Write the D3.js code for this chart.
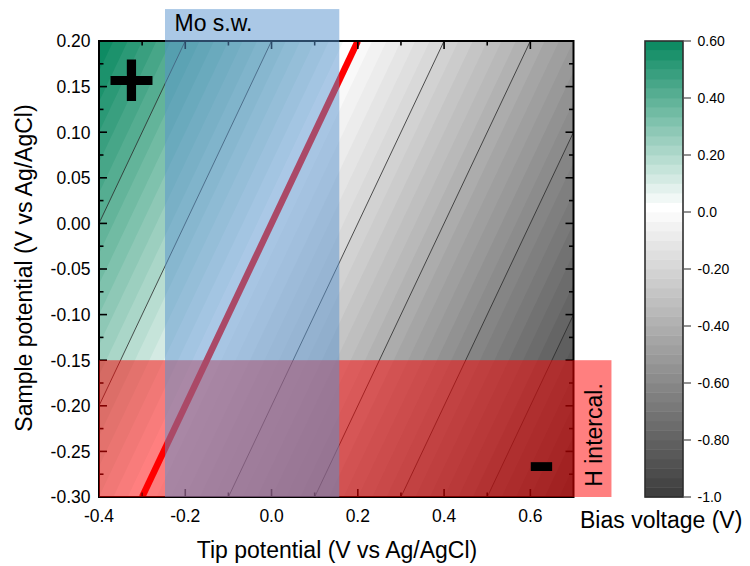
<!DOCTYPE html>
<html>
<head>
<meta charset="utf-8">
<script src="https://cdn.jsdelivr.net/npm/d3@7"></script>
<style>
  body { margin: 0; background: #fff; }
  svg { display: block; }
  text { font-family: "Liberation Sans", Arial, sans-serif; fill: #000; }
</style>
</head>
<body>
<svg id="chart" width="750" height="566"></svg>
<script>
// ---- axes and ticks ----
const tipDomain = [-0.4, 0.7];
const sampleDomain = [-0.3, 0.2];
const xTickValues = [-0.4, -0.2, 0.0, 0.2, 0.4, 0.6];
const xTickLabels = ["-0.4", "-0.2", "0.0", "0.2", "0.4", "0.6"];
const xMinorTicks = [-0.3, -0.1, 0.1, 0.3, 0.5];
const yTickValues = [0.20, 0.15, 0.10, 0.05, 0.00, -0.05, -0.10, -0.15, -0.20, -0.25, -0.30];
const yTickLabels = ["0.20", "0.15", "0.10", "0.05", "0.00", "-0.05", "-0.10", "-0.15", "-0.20", "-0.25", "-0.30"];
const yMinorTicks = [0.175, 0.125, 0.075, 0.025, -0.025, -0.075, -0.125, -0.175, -0.225, -0.275];

// ---- bias voltage (sample - tip) colour map ----
const biasRange = [-1.0, 0.6];
const biasBandCount = 48;
const biasColorStops = [-1.0, 0.0, 0.6];
const biasColors = ["#3f3f3f", "#ffffff", "#00845a"];
const colorbarTickValues = [0.6, 0.4, 0.2, 0.0, -0.2, -0.4, -0.6, -0.8, -1.0];
const colorbarTickLabels = ["0.60", "0.40", "0.20", "0.0", "-0.20", "-0.40", "-0.60", "-0.80", "-1.0"];

// iso-bias lines (V) and the zero-bias line
const contourLevels = [0.4, 0.2, -0.2, -0.4, -0.6, -0.8];
const zeroBiasLevel = 0.0;

// shaded windows
const moTipRange = [-0.247, 0.157];
const moSampleTop = 0.235;
const hSampleRange = [-0.30, -0.15];
const hTipRight = 0.788;

// ---- layout ----
const svg = d3.select("#chart");
const plot = { left: 99, right: 573.5, top: 41, bottom: 497 };
const bar = { left: 645, right: 683 };

const x = d3.scaleLinear().domain(tipDomain).range([plot.left, plot.right]);
const y = d3.scaleLinear().domain(sampleDomain).range([plot.bottom, plot.top]);
const cy = d3.scaleLinear().domain(biasRange).range([plot.bottom, plot.top]);
const color = d3.scaleLinear().domain(biasColorStops).range(biasColors).interpolate(d3.interpolateRgb);

const bandStep = (biasRange[1] - biasRange[0]) / biasBandCount;
const thresholds = d3.range(biasBandCount).map(k => biasRange[0] + k * bandStep);

svg.append("defs").append("clipPath").attr("id", "plotClip")
  .append("rect")
  .attr("x", plot.left).attr("y", plot.top)
  .attr("width", plot.right - plot.left).attr("height", plot.bottom - plot.top);

// ---- filled bias map ----
const gridStep = 0.005;
const tipGrid = d3.range(tipDomain[0], tipDomain[1] + gridStep / 2, gridStep);
const sampleGrid = d3.range(sampleDomain[1], sampleDomain[0] - gridStep / 2, -gridStep);
const nx = tipGrid.length, ny = sampleGrid.length;
const field = new Float64Array(nx * ny);
sampleGrid.forEach((s, j) => tipGrid.forEach((t, i) => { field[j * nx + i] = s - t; }));

const gx = d3.scaleLinear().domain([0.5, nx - 0.5]).range([x(tipGrid[0]), x(tipGrid[nx - 1])]);
const gy = d3.scaleLinear().domain([0.5, ny - 0.5]).range([y(sampleGrid[0]), y(sampleGrid[ny - 1])]);
const gridPath = d3.geoPath(d3.geoTransform({
  point(px, py) { this.stream.point(gx(px), gy(py)); }
}));

const mapLayer = svg.append("g").attr("clip-path", "url(#plotClip)");
mapLayer.append("rect")
  .attr("x", plot.left).attr("y", plot.top)
  .attr("width", plot.right - plot.left).attr("height", plot.bottom - plot.top)
  .attr("fill", color(biasRange[0]));
mapLayer.selectAll("path.band")
  .data(d3.contours().size([nx, ny]).thresholds(thresholds)(field))
  .join("path")
  .attr("class", "band")
  .attr("d", gridPath)
  .attr("fill", d => color(d.value));

// iso-bias lines: sample = tip + level
const isoLine = level => d3.line()(sampleDomain.map(s => [x(s - level), y(s)]));
mapLayer.selectAll("path.iso")
  .data(contourLevels)
  .join("path")
  .attr("class", "iso")
  .attr("d", isoLine)
  .attr("fill", "none")
  .attr("stroke", "#2a2a2a")
  .attr("stroke-width", 0.8);

mapLayer.append("path")
  .attr("d", isoLine(zeroBiasLevel))
  .attr("fill", "none")
  .attr("stroke", "#ff0000")
  .attr("stroke-width", 6.5);

// ---- frame and inward ticks ----
const axes = svg.append("g");
axes.append("rect")
  .attr("x", plot.left).attr("y", plot.top)
  .attr("width", plot.right - plot.left).attr("height", plot.bottom - plot.top)
  .attr("fill", "none").attr("stroke", "#000").attr("stroke-width", 2);

const tick = (g, x1, y1, x2, y2) => g.append("line")
  .attr("x1", x1).attr("y1", y1).attr("x2", x2).attr("y2", y2)
  .attr("stroke", "#000").attr("stroke-width", 1.6);

xTickValues.forEach(v => {
  tick(axes, x(v), plot.bottom, x(v), plot.bottom - 8);
  tick(axes, x(v), plot.top, x(v), plot.top + 8);
});
xMinorTicks.forEach(v => {
  tick(axes, x(v), plot.bottom, x(v), plot.bottom - 4.5);
  tick(axes, x(v), plot.top, x(v), plot.top + 4.5);
});
yTickValues.forEach(v => {
  tick(axes, plot.left, y(v), plot.left + 8, y(v));
  tick(axes, plot.right, y(v), plot.right - 8, y(v));
});
yMinorTicks.forEach(v => {
  tick(axes, plot.left, y(v), plot.left + 4.5, y(v));
  tick(axes, plot.right, y(v), plot.right - 4.5, y(v));
});

svg.append("g").selectAll("text")
  .data(xTickValues)
  .join("text")
  .attr("x", d => x(d)).attr("y", 522)
  .attr("text-anchor", "middle").attr("font-size", 17.5)
  .text((d, i) => xTickLabels[i]);

svg.append("g").selectAll("text")
  .data(yTickValues)
  .join("text")
  .attr("x", 90.5).attr("y", d => y(d) + 6.3)
  .attr("text-anchor", "end").attr("font-size", 17.5)
  .text((d, i) => yTickLabels[i]);

// ---- shaded windows ----
svg.append("rect")
  .attr("x", plot.left).attr("y", y(hSampleRange[1]))
  .attr("width", x(hTipRight) - plot.left)
  .attr("height", y(hSampleRange[0]) - y(hSampleRange[1]))
  .attr("fill", "rgba(255,0,0,0.5)");

svg.append("rect")
  .attr("x", x(moTipRange[0])).attr("y", y(moSampleTop))
  .attr("width", x(moTipRange[1]) - x(moTipRange[0]))
  .attr("height", plot.bottom - y(moSampleTop))
  .attr("fill", "rgba(85,145,205,0.5)");

svg.append("text")
  .attr("x", 174.5).attr("y", 31)
  .attr("font-size", 23)
  .text("Mo s.w.");

svg.append("text")
  .attr("transform", "translate(601.5,435) rotate(-90)")
  .attr("text-anchor", "middle").attr("font-size", 23)
  .text("H intercal.");

// ---- sign markers, sized from their ink box ----
const measureCtx = document.createElement("canvas").getContext("2d");
function signMark(ch, cx, cyy, w, h) {
  measureCtx.font = "bold 100px 'Liberation Sans', Arial, sans-serif";
  const m = measureCtx.measureText(ch);
  const inkW = m.actualBoundingBoxLeft + m.actualBoundingBoxRight;
  const inkH = m.actualBoundingBoxAscent + m.actualBoundingBoxDescent;
  const sx = w / inkW, sy = h / inkH;
  const inkCx = (m.actualBoundingBoxRight - m.actualBoundingBoxLeft) / 2;
  const inkCy = (m.actualBoundingBoxDescent - m.actualBoundingBoxAscent) / 2;
  svg.append("text")
    .attr("transform", `translate(${cx},${cyy}) scale(${sx},${sy}) translate(${-inkCx},${-inkCy})`)
    .attr("font-size", 100).attr("font-weight", "bold")
    .text(ch);
}
signMark("+", 131.7, 79.2, 42.7, 42);
signMark("-", 541.3, 466.2, 22.7, 9);

// ---- axis titles ----
svg.append("text")
  .attr("x", 337).attr("y", 558)
  .attr("text-anchor", "middle").attr("font-size", 23)
  .text("Tip potential (V vs Ag/AgCl)");

svg.append("text")
  .attr("transform", `translate(31.5,${(plot.top + plot.bottom) / 2 - 1}) rotate(-90)`)
  .attr("text-anchor", "middle").attr("font-size", 23)
  .text("Sample potential (V vs Ag/AgCl)");

// ---- colour bar ----
const cbar = svg.append("g");
cbar.selectAll("rect.band")
  .data(thresholds)
  .join("rect")
  .attr("class", "band")
  .attr("x", bar.left).attr("width", bar.right - bar.left)
  .attr("y", d => cy(d + bandStep))
  .attr("height", d => cy(d) - cy(d + bandStep) + 0.4)
  .attr("fill", d => color(d));
cbar.append("rect")
  .attr("x", bar.left).attr("y", plot.top)
  .attr("width", bar.right - bar.left).attr("height", plot.bottom - plot.top)
  .attr("fill", "none").attr("stroke", "#2e2e2e").attr("stroke-width", 1.6);
cbar.selectAll("line.cb")
  .data(colorbarTickValues)
  .join("line")
  .attr("class", "cb")
  .attr("x1", bar.right).attr("x2", bar.right + 8)
  .attr("y1", d => cy(d)).attr("y2", d => cy(d))
  .attr("stroke", "#555").attr("stroke-width", 1.3);
cbar.selectAll("text")
  .data(colorbarTickValues)
  .join("text")
  .attr("x", 697.5).attr("y", d => cy(d) + 5)
  .attr("font-size", 14)
  .text((d, i) => colorbarTickLabels[i]);

svg.append("text")
  .attr("x", 580).attr("y", 528)
  .attr("font-size", 23)
  .text("Bias voltage (V)");
</script>
</body>
</html>
